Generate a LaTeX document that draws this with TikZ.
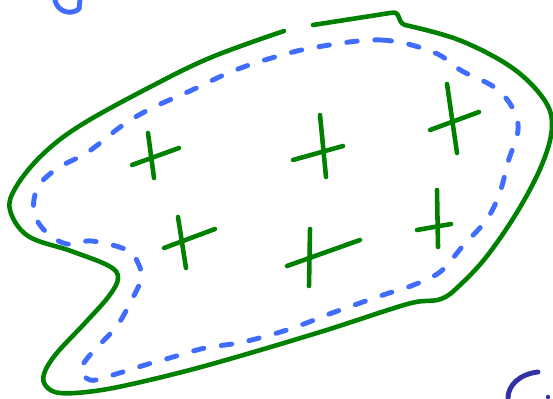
\documentclass[tikz,border=0pt]{standalone}
\usepackage{xcolor}
\usepackage{tikz}
\definecolor{penGreen}{RGB}{0,128,0}
\definecolor{penBlue}{RGB}{64,108,255}
\definecolor{penIndigo}{RGB}{50,50,165}

\begin{document}
\begin{tikzpicture}[x=0.02cm,y=-0.02cm,line cap=round,line join=round,
  boundary/.style={penGreen,line width=2.6pt},
  margin/.style={penBlue,line width=2.8pt,dash pattern=on 6pt off 10pt},
  crossline/.style={penGreen,line width=2.6pt}]
\useasboundingbox (0,0) rectangle (553,398);

% outer boundary, open at the top
\draw[boundary] (313,25) -- (390,13) .. controls (402,10) and (396,22) .. (405,25)
  -- plot[smooth,tension=0.6] coordinates {(405,25) (459,40) (511,67) (543,98)
  (552,125) (543,162) (519,209) (487,256) (459,286) (441,299) (416,302) (388,310)
  (317,333) (212,364) (141,382) (95,391) (60,393) (46,386) (44,374) (56,354)
  (85,323) (109,296) (118,278) (109,266) (71,251) (28,236) (10,210) (16,187)
  (42,155) (81,125) (152,86) (212,57) (284,31)};

% dashed inner curve
\draw[margin] plot[smooth cycle,tension=0.6] coordinates {(317,47) (381,40)
  (433,52) (462,71) (494,87) (512,107) (518,130) (508,162) (500,192) (487,219)
  (462,247) (440,272) (411,286) (383,295) (332,313) (290,329) (243,342) (205,348)
  (173,357) (145,365) (106,377) (90,380) (81,370) (90,355) (116,327) (130,303)
  (141,279) (138,263) (127,250) (92,241) (67,244) (46,232) (34,212) (38,187)
  (58,168) (88,152) (123,125) (152,108) (190,91) (233,71) (275,57)};

% crosses
\draw[crossline] (148,133) -- (154,178);
\draw[crossline] (132,165) -- (179,148);
\draw[crossline] (320,115) -- (326,177);
\draw[crossline] (293,160) -- (343,146);
\draw[crossline] (447,84) -- (457,153);
\draw[crossline] (430,130) -- (479,112);
\draw[crossline] (178,217) -- (186,268);
\draw[crossline] (164,248) -- (215,229);
\draw[crossline] (310,229) -- (309,286);
\draw[crossline] (287,266) -- (360,240);
\draw[crossline] (437,190) -- (438,247);
\draw[crossline] (417,230) -- (451,224);

% letter fragments at the edges
\draw[penBlue,line width=2.8pt] (55,0) .. controls (57,11) and (70,16) .. (79,9) -- (80,0);
\draw[penIndigo,line width=2.8pt] (538,372) .. controls (520,374) and (508,385) .. (508,398);
\fill[penIndigo] (548,397) circle (2.2);
\end{tikzpicture}
\end{document}
